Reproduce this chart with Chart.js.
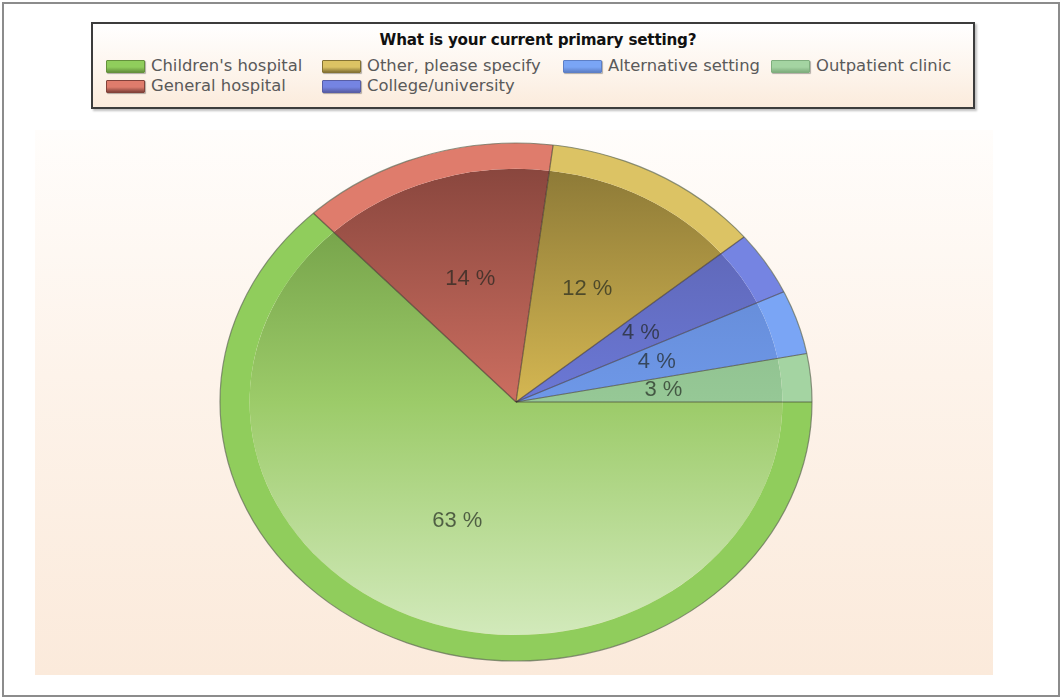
<!DOCTYPE html>
<html>
<head>
<meta charset="utf-8">
<script src="https://cdn.jsdelivr.net/npm/chart.js@4.4.1/dist/chart.umd.min.js"></script>
<style>
  html, body { margin: 0; padding: 0; background: #fff; }
  body { width: 1062px; height: 698px; position: relative; overflow: hidden; }
  #frame { position: absolute; left: 2px; top: 2px; width: 1054px; height: 691px; border: 2px solid #8c8c8c; }
  #panel { position: absolute; left: 35px; top: 130px; width: 958px; height: 545px;
           background: linear-gradient(#fffdfb 0%, #fdf3ea 45%, #fbeadb 100%); }
  #legendBox { position: absolute; left: 91px; top: 22px; width: 880px; height: 83px;
               border: 2px solid #3c3c3c; box-shadow: 2px 2px 2px rgba(0,0,0,0.25);
               background: linear-gradient(#ffffff 0%, #fdf5ed 55%, #fbebdc 100%); }
  #legendTitle { position: absolute; left: 93px; width: 890px; top: 31px; text-align: center;
                 font: bold 15.2px "DejaVu Sans", sans-serif; color: #111; letter-spacing: -0.2px; }
  .item { position: absolute; height: 18px; white-space: nowrap; }
  .swatch { position: absolute; left: 0; top: 3px; width: 37px; height: 11px; border-radius: 1px;
            box-shadow: 1px 1px 1px rgba(0,0,0,0.3); }
  .label { position: absolute; left: 45px; top: 0; font: 16.4px "DejaVu Sans", sans-serif; color: #5a5a5a; line-height: 18px; }
  #pie { position: absolute; left: 0; top: 0; }
</style>
</head>
<body>
<div id="frame"></div>
<div id="panel"></div>
<div id="legendBox"></div>
<div id="legendTitle">What is your current primary setting?</div>
<div id="legendItems"></div>
<canvas id="pie" width="1062" height="698"></canvas>
<script>
  const categories = ["Children's hospital", "General hospital", "Other, please specify", "College/university", "Alternative setting", "Outpatient clinic"];
  const shares = [63, 14, 12, 4, 4, 3];

  // flat rim colour + top/middle/bottom shades for the face of each slice
  const rimColors = ['#90cd5c', '#df7c6c', '#dcc364', '#7584e2', '#7aa5f5', '#a4d4a2'];
  const faceTop = ['#65913c', '#82423a', '#857334', '#585ea6', '#5d7fc6', '#7fae7e'];
  const faceMid = ['#9ccb69', '#cc6e60', '#d5b752', '#6b78d6', '#6e98e8', '#96c896'];
  const faceBottom = ['#d8edc4', '#da7c6e', '#e2c562', '#7684e0', '#7aa4f2', '#a6d6a4'];

  const Y_SCALE = 259 / 296;          // pie is drawn squashed into an ellipse
  const legendCols = [106, 322, 563, 771];
  const legendRows = [57, 77];
  // [column, row] of each legend entry
  const legendSlots = [[0, 0], [0, 1], [1, 0], [1, 1], [2, 0], [3, 0]];

  const holder = document.getElementById('legendItems');
  categories.forEach((name, i) => {
    const [c, r] = legendSlots[i];
    const it = document.createElement('div');
    it.className = 'item';
    it.style.left = legendCols[c] + 'px';
    it.style.top = legendRows[r] + 'px';
    const sw = document.createElement('div');
    sw.className = 'swatch';
    sw.style.background = `linear-gradient(${rimColors[i]} 0%, ${rimColors[i]} 55%, ${faceTop[i]} 100%)`;
    sw.style.border = `1px solid ${faceTop[i]}`;
    const tx = document.createElement('div');
    tx.className = 'label';
    tx.textContent = name;
    it.appendChild(sw); it.appendChild(tx);
    holder.appendChild(it);
  });

  function faceGradient(ctx, i) {
    const area = ctx.chart.chartArea;
    if (!area) return faceMid[i];
    const g = ctx.chart.ctx.createLinearGradient(0, area.top, 0, area.bottom);
    g.addColorStop(0, faceTop[i]);
    g.addColorStop(0.5, faceMid[i]);
    g.addColorStop(1, faceBottom[i]);
    return g;
  }

  const ellipsePie = {
    id: 'ellipsePie',
    beforeDatasetsDraw(chart) {
      const ctx = chart.ctx, a = chart.chartArea;
      const cy = (a.top + a.bottom) / 2;
      ctx.save();
      ctx.translate(0, cy);
      ctx.scale(1, Y_SCALE);
      ctx.translate(0, -cy);
    },
    afterDatasetsDraw(chart) {
      const ctx = chart.ctx;
      ctx.restore();
      const rim = chart.getDatasetMeta(0).data;
      const face = chart.getDatasetMeta(1).data;
      if (!face.length) return;
      const cx = face[0].x, cy = face[0].y, R = rim[0].outerRadius;

      ctx.save();
      // slice dividers
      ctx.strokeStyle = 'rgba(55,45,40,0.6)';
      ctx.lineWidth = 1.2;
      face.forEach(arc => {
        ctx.beginPath();
        ctx.moveTo(cx, cy);
        ctx.lineTo(cx + Math.cos(arc.startAngle) * R, cy + Math.sin(arc.startAngle) * R * Y_SCALE);
        ctx.stroke();
      });
      // outline
      ctx.strokeStyle = 'rgba(95,105,85,0.7)';
      ctx.lineWidth = 1.2;
      ctx.beginPath();
      ctx.ellipse(cx, cy, R, R * Y_SCALE, 0, 0, Math.PI * 2);
      ctx.stroke();

      // percentage labels at half radius
      ctx.font = '22px "Liberation Sans", Arial, sans-serif';
      ctx.textAlign = 'center';
      ctx.textBaseline = 'middle';
      ctx.fillStyle = 'rgba(30,35,30,0.68)';
      face.forEach((arc, i) => {
        const mid = (arc.startAngle + arc.endAngle) / 2;
        const x = cx + Math.cos(mid) * R * 0.5;
        const y = cy + Math.sin(mid) * R * 0.5 * Y_SCALE;
        ctx.fillText(shares[i] + ' %', x, y);
      });
      ctx.restore();
    }
  };

  new Chart(document.getElementById('pie'), {
    type: 'doughnut',
    data: {
      labels: categories,
      datasets: [
        { data: shares, backgroundColor: rimColors, borderWidth: 0, weight: 1 },
        { data: shares, backgroundColor: ctx => faceGradient(ctx, ctx.dataIndex), borderWidth: 0, weight: 9 }
      ]
    },
    options: {
      responsive: false,
      animation: false,
      cutout: 0,
      rotation: 90,
      hoverOffset: 0,
      layout: { padding: { left: 220, right: 250, top: 106, bottom: 0 } },
      plugins: { legend: { display: false }, tooltip: { enabled: false } }
    },
    plugins: [ellipsePie]
  });
</script>
</body>
</html>
